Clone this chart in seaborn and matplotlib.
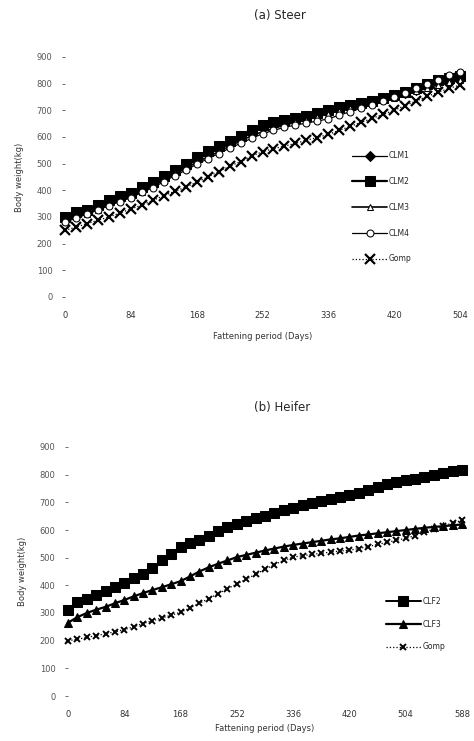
import pandas as pd
import matplotlib
matplotlib.use("Agg")
import matplotlib.pyplot as plt
import seaborn as sns

# (a) Steer
steer_days = [0, 14, 28, 42, 56, 70, 84, 98, 112, 126, 140, 154, 168, 182, 196, 210, 224, 238, 252,
              266, 280, 294, 308, 322, 336, 350, 364, 378, 392, 406, 420, 434, 448, 462, 476, 490, 504]
clm1 = [290, 305, 318, 335, 352, 368, 382, 402, 422, 445, 468, 490, 512, 535, 555, 575, 595, 615, 632,
        645, 655, 665, 675, 685, 695, 705, 715, 722, 732, 742, 752, 765, 778, 790, 802, 812, 820]
clm2 = [300, 318, 328, 345, 362, 378, 390, 412, 432, 455, 478, 500, 525, 548, 568, 585, 605, 628, 645,
        655, 662, 672, 680, 690, 700, 712, 720, 728, 735, 748, 757, 770, 785, 798, 812, 822, 830]
clm3 = [285, 300, 312, 328, 345, 360, 375, 395, 415, 438, 460, 482, 505, 525, 545, 565, 585, 605, 620,
        632, 645, 655, 665, 675, 688, 698, 708, 718, 728, 738, 748, 760, 772, 784, 795, 805, 812]
clm4 = [280, 296, 310, 326, 342, 358, 372, 392, 410, 432, 455, 475, 498, 518, 538, 558, 576, 595, 612,
        625, 636, 645, 652, 660, 668, 682, 695, 708, 720, 735, 750, 765, 782, 800, 815, 832, 845]
steer_obs = [250, 262, 275, 288, 300, 315, 330, 345, 362, 380, 396, 412, 430, 450, 470, 490, 508, 528, 545,
             556, 566, 576, 588, 598, 610, 625, 640, 655, 670, 685, 700, 718, 735, 752, 768, 782, 795]

# (b) Heifer
heifer_days = [0, 14, 28, 42, 56, 70, 84, 98, 112, 126, 140, 154, 168, 182, 196, 210, 224, 238, 252,
               266, 280, 294, 308, 322, 336, 350, 364, 378, 392, 406, 420, 434, 448, 462, 476, 490, 504,
               518, 532, 546, 560, 574, 588]
clf2 = [310, 340, 352, 365, 380, 395, 410, 425, 440, 462, 490, 515, 540, 552, 565, 580, 595, 610, 622,
        632, 642, 652, 662, 672, 680, 690, 698, 705, 712, 720, 726, 735, 745, 755, 765, 775, 780,
        785, 792, 798, 805, 812, 817]
clf3 = [265, 285, 300, 312, 322, 335, 347, 360, 372, 383, 393, 404, 415, 432, 450, 465, 478, 490, 502,
        510, 518, 526, 533, 540, 546, 551, 556, 561, 566, 570, 575, 580, 584, 588, 592, 596, 600,
        604, 608, 611, 614, 617, 620]
heifer_obs = [200, 205, 212, 218, 225, 232, 240, 250, 262, 272, 282, 292, 303, 318, 335, 352, 370, 388, 405,
              422, 440, 458, 475, 490, 502, 507, 512, 516, 520, 524, 527, 533, 540, 548, 555, 563, 570,
              580, 592, 604, 615, 625, 635]

steer_ticks = [0, 84, 168, 252, 336, 420, 504]
heifer_ticks = [0, 84, 168, 252, 336, 420, 504, 588]
y_ticks = [0, 100, 200, 300, 400, 500, 600, 700, 800, 900]

sns.set_theme(style="white")
plt.rcParams['font.family'] = ['DejaVu Sans']

W, H = 474, 741
fig = plt.figure(figsize=(W / 100, H / 100), dpi=100)


def add_axes(left, right, top, bottom):
    return fig.add_axes([left / W, 1 - bottom / H, (right - left) / W, (bottom - top) / H])


ax1 = add_axes(65, 460, 57, 297)
ax2 = add_axes(68, 462, 447, 696)

steer_styles = [
    ("CLM1", clm1, dict(marker="D", markersize=5, linewidth=0.9, linestyle="-", markerfacecolor="black")),
    ("CLM2", clm2, dict(marker="s", markersize=7, linewidth=1.6, linestyle="-", markerfacecolor="black")),
    ("CLM3", clm3, dict(marker="^", markersize=5, linewidth=1.2, linestyle="-", markerfacecolor="white")),
    ("CLM4", clm4, dict(marker="o", markersize=5, linewidth=0.9, linestyle="-", markerfacecolor="white")),
    ("Gomp", steer_obs, dict(marker="x", markersize=7, linewidth=0.9, linestyle=":", markeredgewidth=1.6)),
]
heifer_styles = [
    ("CLF2", clf2, dict(marker="s", markersize=7, linewidth=1.4, linestyle="-", markerfacecolor="black")),
    ("CLF3", clf3, dict(marker="^", markersize=6, linewidth=1.6, linestyle="-", markerfacecolor="black")),
    ("Gomp", heifer_obs, dict(marker="x", markersize=4.5, linewidth=0.9, linestyle=":", markeredgewidth=1.4)),
]

for ax, days, styles in [(ax1, steer_days, steer_styles), (ax2, heifer_days, heifer_styles)]:
    for name, vals, kw in styles:
        df = pd.DataFrame({"day": days, "weight": vals})
        sns.lineplot(data=df, x="day", y="weight", ax=ax, color="black", label=name,
                     markeredgecolor="black", clip_on=False, **kw)

ax1.set_xlim(0, 504)
ax1.set_xticks(steer_ticks)
ax2.set_xlim(0, 588)
ax2.set_xticks(heifer_ticks)

for ax, lp in ((ax1, 9), (ax2, 4)):
    ax.set_ylim(0, 900)
    ax.set_yticks(y_ticks)
    for s in ax.spines.values():
        s.set_visible(False)
    ax.tick_params(axis="y", left=True, length=2, width=0.6, colors="#555555", labelsize=6, pad=7)
    ax.tick_params(axis="x", bottom=False, labelsize=6, pad=4, colors="#333333")
    ax.set_xlabel("Fattening period (Days)", fontsize=6, color="#333333", labelpad=lp)
    ax.set_ylabel("Body weight(kg)", fontsize=6, color="#333333", labelpad=9)
    ax.grid(False)

leg1 = ax1.legend(loc="upper left", bbox_to_anchor=(0.72, 0.62), frameon=False, fontsize=5.5,
                  handlelength=4.5, labelspacing=2.2, handletextpad=0.2, borderaxespad=0)
leg2 = ax2.legend(loc="upper left", bbox_to_anchor=(0.80, 0.41), frameon=False, fontsize=5.5,
                  handlelength=4.5, labelspacing=1.8, handletextpad=0.2, borderaxespad=0)

fig.text(280 / W, 1 - 15 / H, "(a) Steer", ha="center", va="center", fontsize=8.5)
fig.text(282 / W, 1 - 408 / H, "(b) Heifer", ha="center", va="center", fontsize=8.5)

fig.savefig("out.png", dpi=100, facecolor="white")
